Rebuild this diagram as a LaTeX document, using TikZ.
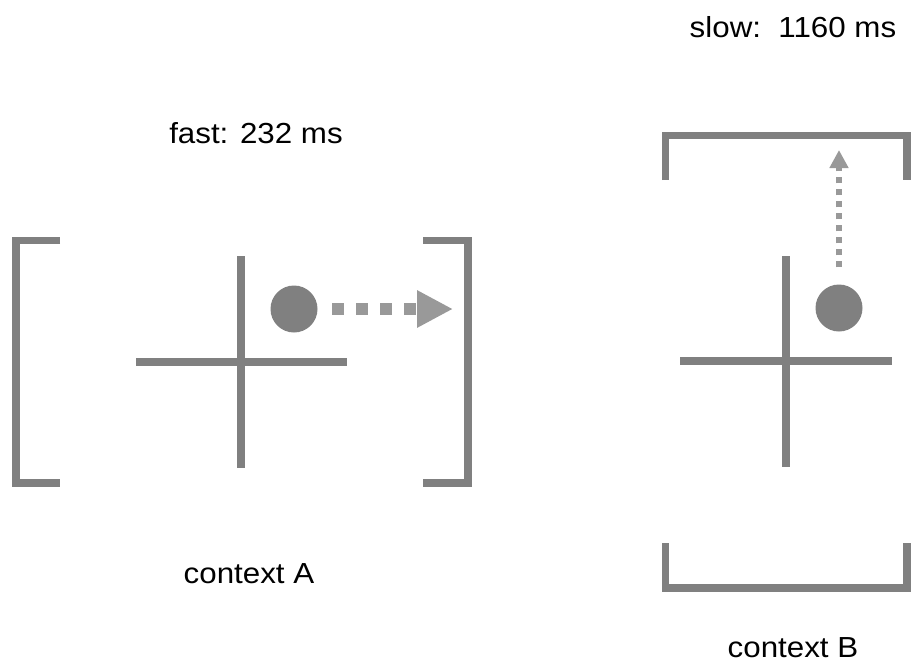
\documentclass[tikz,border=0pt]{standalone}
\usepackage{fontspec}
\setmainfont{Liberation Sans}[FakeStretch=1.08]
\usepackage{tikz}
\usetikzlibrary{arrows.meta}
\usetikzlibrary{positioning}
\definecolor{framegray}{HTML}{808080}
\definecolor{arrowgray}{HTML}{999999}

\begin{document}
\begin{tikzpicture}[x=1pt,y=-1pt,line join=miter,
  frame/.style={line width=7.5pt,color=framegray},
  dot/.style={circle,fill=framegray,minimum size=47pt,inner sep=0pt},
  label/.style={anchor=base,inner sep=0pt,font=\fontsize{29}{33}\selectfont}]
\useasboundingbox (0,0) rectangle (911,664);
% context A
\draw [frame] (60,240.5) -- (16,240.5) -- (16,483) -- (60,483);
\draw [frame] (423,240.5) -- (468,240.5) -- (468,483) -- (423,483);
\draw [frame] (241,256) -- (241,468);
\draw [frame] (136,362) -- (347,362);
\node [dot] (dotA) at (294,309) {};
\coordinate (tipA) at (453,309);
\draw [arrowgray, line width=12pt, dash pattern=on 12pt off 12pt,
  shorten <=14.5pt, -{Triangle[length=36pt,width=35pt]}] (dotA.east) -- (tipA);
\node [label] (fast) at (256,143) {fast: 232 ms};
\node [label] (ctxA) at (249,583) {context A};
% context B
\draw [frame] (665.5,180) -- (665.5,135.5) -- (907,135.5) -- (907,180);
\draw [frame] (665.5,543) -- (665.5,588) -- (907,588) -- (907,543);
\draw [frame] (786,256) -- (786,467);
\draw [frame] (680,361) -- (892,361);
\node [dot] (dotB) at (839,308) {};
\coordinate (tipB) at (839,150);
\draw [arrowgray, line width=6pt, dash pattern=on 6pt off 6pt,
  shorten <=17pt, -{Triangle[length=18pt,width=18pt]}] (dotB.north) -- (tipB);
\node [label] (slow) at (793,37) {slow:\ \ 1160 ms};
\node [label] (ctxB) at (793,657) {context B};
\end{tikzpicture}
\end{document}
